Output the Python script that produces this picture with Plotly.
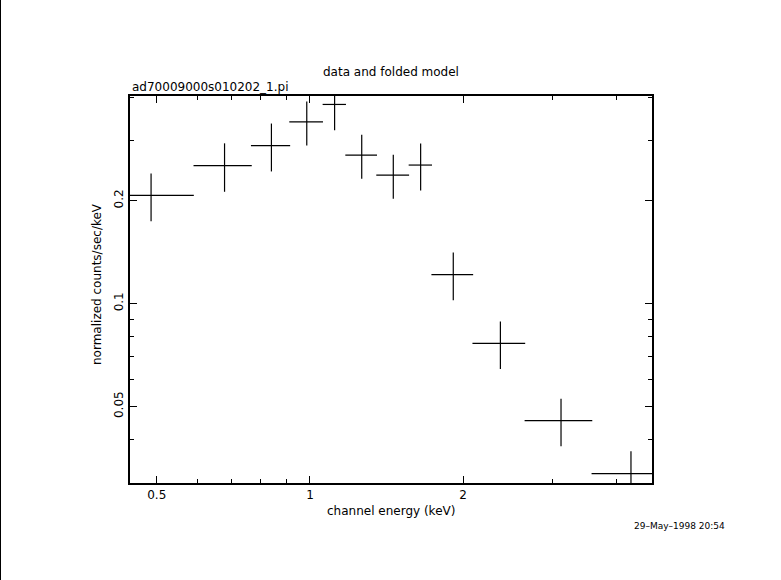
import math
import plotly.graph_objects as go

# ---- data ----
energy = [0.4873, 0.6795, 0.840, 0.9857, 1.118, 1.264, 1.458, 1.650, 1.9125, 2.367, 3.114, 4.2735]
energy_err = [0.104, 0.089, 0.0743, 0.075, 0.059, 0.0905, 0.108, 0.087, 0.18, 0.281, 0.473, 0.698]
rate = [0.2072, 0.2534, 0.290, 0.3403, 0.3826, 0.2718, 0.2375, 0.2543, 0.1216, 0.0765, 0.04545, 0.03178]
rate_err = [0.033, 0.041, 0.0464, 0.050, 0.0608, 0.040, 0.035, 0.040, 0.0194, 0.0121, 0.0072, 0.00516]

x_major = [0.5, 1, 2]
x_major_text = ["0.5", "1", "2"]
x_minor = [0.6, 0.7, 0.8, 0.9, 3, 4]
y_major = [0.05, 0.1, 0.2]
y_major_text = ["0.05", "0.1", "0.2"]
y_minor = [0.03, 0.04, 0.06, 0.07, 0.08, 0.09, 0.3, 0.4]

x_range = [0.443, 4.70]
y_range = [0.02985, 0.405]

title_text = "data and folded model"
file_text = "ad70009000s010202_1.pi"
xlabel = "channel energy (keV)"
ylabel = "normalized counts/sec/keV"
date_text = "29\u2013May\u20131998 20:54"

W, H = 781, 580
L, R, T, B = 130, 129, 96, 97
PW, PH = W - L - R, H - T - B


def px(X):
    return (X - L) / PW


def py(Y):
    return (H - B - Y) / PH


FONT = "DejaVu Sans"

fig = go.Figure()
fig.add_trace(go.Scatter(
    x=energy, y=rate, mode="markers",
    marker=dict(size=1, color="rgba(0,0,0,0)"),
    error_x=dict(type="data", array=energy_err, visible=True, width=0, thickness=1.2, color="black"),
    error_y=dict(type="data", array=rate_err, visible=True, width=0, thickness=1.2, color="black"),
    showlegend=False, hoverinfo="skip",
))

axis_common = dict(
    type="log", showgrid=False, zeroline=False,
    showline=True, linecolor="black", linewidth=1.5, mirror="ticks",
    ticks="inside", ticklen=7, tickwidth=1, tickcolor="black",
    tickfont=dict(family=FONT, size=12, color="black"),
)

fig.update_xaxes(
    **axis_common,
    range=[math.log10(x_range[0]), math.log10(x_range[1])],
    tickmode="array", tickvals=x_major, ticktext=x_major_text,
    minor=dict(tickmode="array", tickvals=x_minor, ticks="inside", ticklen=4, tickcolor="black", tickwidth=1),
)
fig.update_yaxes(
    **axis_common,
    range=[math.log10(y_range[0]), math.log10(y_range[1])],
    tickmode="array", tickvals=y_major, ticktext=y_major_text, tickangle=-90,
    minor=dict(tickmode="array", tickvals=y_minor, ticks="inside", ticklen=4, tickcolor="black", tickwidth=1),
)

annotations = [
    dict(text=title_text, x=px(391), y=py(72), xanchor="center", yanchor="middle",
         font=dict(family=FONT, size=12, color="black")),
    dict(text=file_text, x=px(130), y=py(87), xanchor="left", yanchor="middle",
         font=dict(family=FONT, size=12, color="black")),
    dict(text=xlabel, x=px(391), y=py(511), xanchor="center", yanchor="middle",
         font=dict(family=FONT, size=12, color="black")),
    dict(text=ylabel, x=px(97), y=py(284), xanchor="center", yanchor="middle", textangle=-90,
         font=dict(family=FONT, size=12, color="black")),
    dict(text=date_text, x=px(679), y=py(526), xanchor="center", yanchor="middle",
         font=dict(family=FONT, size=9, color="black")),
]
for a in annotations:
    a.update(xref="paper", yref="paper", showarrow=False)

fig.update_layout(
    width=W, height=H,
    margin=dict(l=L, r=R, t=T, b=B),
    paper_bgcolor="white", plot_bgcolor="white",
    annotations=annotations,
    shapes=[dict(type="line", xref="paper", yref="paper",
                 x0=px(0.5), x1=px(0.5), y0=py(0), y1=py(H),
                 line=dict(color="black", width=1))],
)

fig.write_html("out.html", config={"displayModeBar": False},
               post_script="document.body.style.margin='0px';document.body.style.overflow='hidden';")
